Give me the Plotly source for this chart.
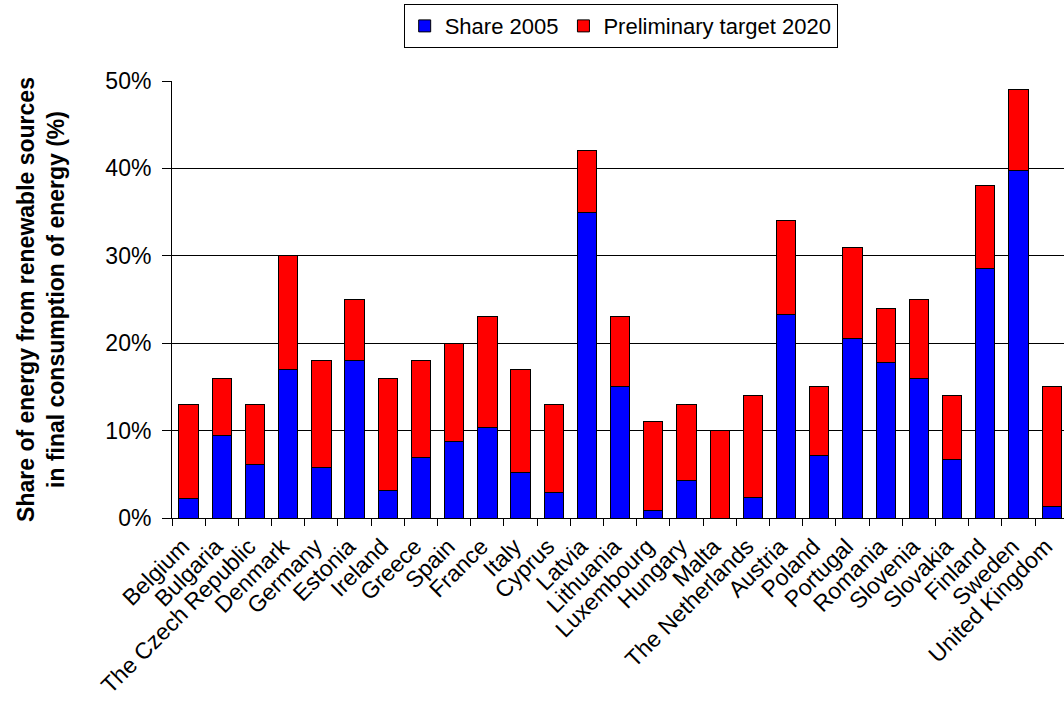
import plotly.graph_objects as go

countries = ["Belgium", "Bulgaria", "The Czech Republic", "Denmark", "Germany", "Estonia",
             "Ireland", "Greece", "Spain", "France", "Italy", "Cyprus", "Latvia", "Lithuania",
             "Luxembourg", "Hungary", "Malta", "The Netherlands", "Austria", "Poland",
             "Portugal", "Romania", "Slovenia", "Slovakia", "Finland", "Sweden", "United Kingdom"]
share_2005 = [2.2, 9.4, 6.1, 17.0, 5.8, 18.0, 3.1, 6.9, 8.7, 10.3, 5.2, 2.9, 34.9, 15.0,
              0.9, 4.3, 0.0, 2.4, 23.3, 7.2, 20.5, 17.8, 16.0, 6.7, 28.5, 39.8, 1.3]
target_2020 = [13, 16, 13, 30, 18, 25, 16, 18, 20, 23, 17, 13, 42, 23,
               11, 13, 10, 14, 34, 15, 31, 24, 25, 14, 38, 49, 15]
y_ticks = [0, 10, 20, 30, 40, 50]
y_tick_labels = ["0%", "10%", "20%", "30%", "40%", "50%"]

gap_to_target = [round(t - s, 2) for s, t in zip(share_2005, target_2020)]

FONT = "Liberation Sans, Arial, sans-serif"

fig = go.Figure()
fig.add_trace(go.Bar(x=countries, y=share_2005, name="Share 2005",
                     marker=dict(color="#0000FF", line=dict(color="black", width=1))))
fig.add_trace(go.Bar(x=countries, y=gap_to_target, name="Preliminary target 2020",
                     marker=dict(color="#FF0000", line=dict(color="black", width=1))))

fig.update_layout(
    barmode="stack",
    bargap=0.42,
    width=1064, height=704,
    margin=dict(l=172, r=0, t=81, b=186),
    paper_bgcolor="white", plot_bgcolor="white",
    font=dict(family=FONT, size=22, color="black"),
    showlegend=True,
    legend=dict(orientation="h", x=0.503, xanchor="center", y=1.176, yanchor="top",
                bordercolor="black", borderwidth=1, font=dict(size=22),
                traceorder="normal", itemwidth=30, tracegroupgap=0),
    xaxis=dict(range=[-0.5, 26.37], tickangle=-45, tickson="boundaries",
               ticks="outside", ticklen=7, tickcolor="black",
               showline=True, linecolor="black", linewidth=1, automargin=False,
               showgrid=False, tickfont=dict(size=23),
               ticklabelstandoff=5, ticklabelshift=-6),
    yaxis=dict(range=[0, 50], tickvals=y_ticks, ticktext=y_tick_labels,
               ticks="outside", ticklen=9, tickcolor="black",
               showline=True, linecolor="black", linewidth=1, automargin=False,
               showgrid=True, gridcolor="black", gridwidth=1,
               zeroline=False, tickfont=dict(size=23), ticklabelstandoff=6,
               title=dict(text="<b>Share of energy from renewable sources<br>in final consumption of energy (%)</b>",
                          font=dict(size=23), standoff=34)),
)

fig.write_html("out.html")
